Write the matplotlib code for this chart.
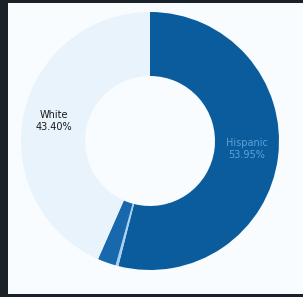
import matplotlib
matplotlib.use('Agg')
import matplotlib.pyplot as plt
from matplotlib.patches import Rectangle

# data
labels = ['Hispanic', 'Other', 'Black', 'White']
shares = [53.95, 0.35, 2.30, 43.40]
colors = ['#0b5c9c', '#a9d2f2', '#1868ad', '#e9f3fb']
shown = {'Hispanic': '53.95%', 'White': '43.40%'}

W, H = 303, 297
fig = plt.figure(figsize=(W / 100, H / 100), dpi=100)
fig.patch.set_facecolor('#1b2128')
ax = fig.add_axes([0, 0, 1, 1])

ax.add_patch(Rectangle((8, 3), W - 8, H - 6, facecolor='#f9fcfe', edgecolor='none', zorder=0))

cx, cy, R = 150, H - 141, 129
ax.pie(shares, colors=colors, startangle=90, counterclock=False,
       center=(cx, cy), radius=R,
       wedgeprops=dict(width=R - 65, edgecolor='none'))

ax.set_xlim(0, W)
ax.set_ylim(0, H)
ax.set_aspect('equal')
ax.axis('off')

ax.text(54, H - 121, 'White\n' + shown['White'], ha='center', va='center',
        fontsize=7, color='#1a1a1a', linespacing=1.3)
ax.text(247, H - 149, 'Hispanic\n' + shown['Hispanic'], ha='center', va='center',
        fontsize=7, color='#5aa3dc', linespacing=1.3)

fig.savefig('out.png', dpi=100, facecolor=fig.get_facecolor())
